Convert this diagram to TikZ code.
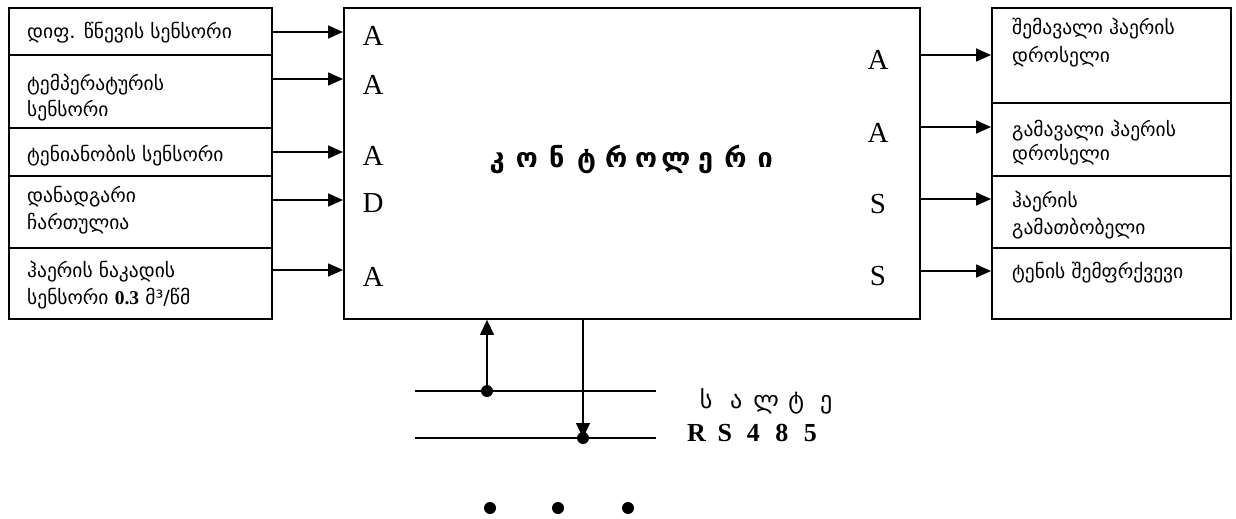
\documentclass[tikz,border=0pt]{standalone}
\usepackage{fontspec}
\setmainfont{Liberation Serif}
\newfontfamily\geo{DejaVu Sans}
\usetikzlibrary{arrows.meta,calc}
\newcommand{\lw}[1]{\makebox[29.8pt]{#1}}
\newcommand{\sw}[1]{\makebox[30pt]{#1}}
\newcommand{\rw}[1]{\makebox[28.5pt]{#1}}
\begin{document}
\begin{tikzpicture}[x=1pt,y=-1pt,
  box/.style={draw,line width=1.9pt,inner sep=0pt,anchor=north west},
  arr/.style={line width=1.6pt,-{Triangle[length=15pt,width=13pt]}},
  thinarr/.style={line width=1.3pt,-{Triangle[length=15pt,width=14pt]}},
  bus/.style={line width=1.3pt},
  gtxt/.style={anchor=base west,inner sep=0pt,font=\geo\fontsize{19.5}{19.5}\selectfont},
  io/.style={anchor=base,inner sep=0pt,font=\fontsize{29}{29}\selectfont},
  dot/.style={circle,fill,inner sep=0pt,minimum size=12pt},
]
\useasboundingbox (0,0) rectangle (1236,519);

% left boxes
\node[box,minimum width=263pt,minimum height=47pt] (l1) at (8,7) {};
\node[box,minimum width=263pt,minimum height=73pt] (l2) at (8,54) {};
\node[box,minimum width=263pt,minimum height=48pt] (l3) at (8,127) {};
\node[box,minimum width=263pt,minimum height=72pt] (l4) at (8,175) {};
\node[box,minimum width=263pt,minimum height=71pt] (l5) at (8,247) {};

% controller
\node[box,minimum width=576pt,minimum height=311pt] (ctrl) at (343,7) {};

% right boxes
\node[box,minimum width=239pt,minimum height=95pt] (r1) at (991,7) {};
\node[box,minimum width=239pt,minimum height=73pt] (r2) at (991,102) {};
\node[box,minimum width=239pt,minimum height=72pt] (r3) at (991,175) {};
\node[box,minimum width=239pt,minimum height=71pt] (r4) at (991,247) {};

% left texts
\node[gtxt] (t1) at (27,38) {დიფ. წნევის სენსორი};
\node[gtxt] (t2a) at (27,90) {ტემპერატურის};
\node[gtxt] (t2b) at (27,116) {სენსორი};
\node[gtxt] (t3) at (27,161) {ტენიანობის სენსორი};
\node[gtxt] (t4a) at (27,202) {დანადგარი};
\node[gtxt] (t4b) at (27,229) {ჩართულია};
\node[gtxt] (t5a) at (27,277) {ჰაერის ნაკადის};
\node[gtxt] (t5b) at (27,304) {სენსორი {\rmfamily\bfseries 0.3} მ³/წმ};

% right texts
\node[gtxt] (u1a) at (1012,35) {შემავალი ჰაერის};
\node[gtxt] (u1b) at (1012,63) {დროსელი};
\node[gtxt] (u2a) at (1012,136) {გამავალი ჰაერის};
\node[gtxt] (u2b) at (1012,160) {დროსელი};
\node[gtxt] (u3a) at (1012,207) {ჰაერის};
\node[gtxt] (u3b) at (1012,234) {გამათბობელი};
\node[gtxt] (u4) at (1012,278) {ტენის შემფრქვევი};

% controller labels
\node[io] (a1) at (373,46) {A};
\node[io] (a2) at (373,94) {A};
\node[io] (a3) at (373,165) {A};
\node[io] (a4) at (373,212) {D};
\node[io] (a5) at (373,286) {A};
\node[io] (b1) at (878,70) {A};
\node[io] (b2) at (878,142) {A};
\node[io] (b3) at (878,213) {S};
\node[io] (b4) at (878,285) {S};

\node[anchor=base west,inner sep=0pt,font=\geo\bfseries\fontsize{27}{27}\selectfont] (title) at (482,167)
  {\lw{კ}\lw{ო}\lw{ნ}\lw{ტ}\lw{რ}\lw{ო}\lw{ლ}\lw{ე}\lw{რ}\lw{ი}};

% input arrows
\coordinate (i1) at (ctrl.west |- {(0,32)});
\coordinate (i2) at (ctrl.west |- {(0,79)});
\coordinate (i3) at (ctrl.west |- {(0,152)});
\coordinate (i4) at (ctrl.west |- {(0,200)});
\coordinate (i5) at (ctrl.west |- {(0,270)});
\draw[arr] (l1.east |- i1) -- (i1);
\draw[arr] (l2.east |- i2) -- (i2);
\draw[arr] (l3.east |- i3) -- (i3);
\draw[arr] (l4.east |- i4) -- (i4);
\draw[arr] (l5.east |- i5) -- (i5);

% output arrows
\coordinate (o1) at (ctrl.east |- {(0,55)});
\coordinate (o2) at (ctrl.east |- {(0,127)});
\coordinate (o3) at (ctrl.east |- {(0,199)});
\coordinate (o4) at (ctrl.east |- {(0,271)});
\draw[arr] (o1) -- (r1.west |- o1);
\draw[arr] (o2) -- (r2.west |- o2);
\draw[arr] (o3) -- (r3.west |- o3);
\draw[arr] (o4) -- (r4.west |- o4);

% bus
\coordinate (bw1) at (415,391);
\coordinate (be1) at (656,391);
\coordinate (bw2) at (415,438);
\coordinate (be2) at (656,438);
\draw[bus] (bw1) -- (be1);
\draw[bus] (bw2) -- (be2);
\node[dot] (d1) at (487,391) {};
\node[dot] (d2) at (583,438) {};
\draw[thinarr] (d1.center) -- (d1 |- ctrl.south);
\draw[thinarr] (ctrl.south -| d2) -- (d2.center);

\node[anchor=base west,inner sep=0pt,font=\geo\fontsize{24}{24}\selectfont] (salte) at (691,408)
  {\sw{ს}\sw{ა}\sw{ლ}\sw{ტ}\sw{ე}};
\node[anchor=base west,inner sep=0pt,font=\bfseries\fontsize{26}{26}\selectfont] (rs) at (682,441)
  {\rw{R}\rw{S}\rw{4}\rw{8}\rw{5}};

% ellipsis
\node[dot] (e1) at (490,508) {};
\node[dot] (e2) at (558,508) {};
\node[dot] (e3) at (628,508) {};
\end{tikzpicture}
\end{document}
